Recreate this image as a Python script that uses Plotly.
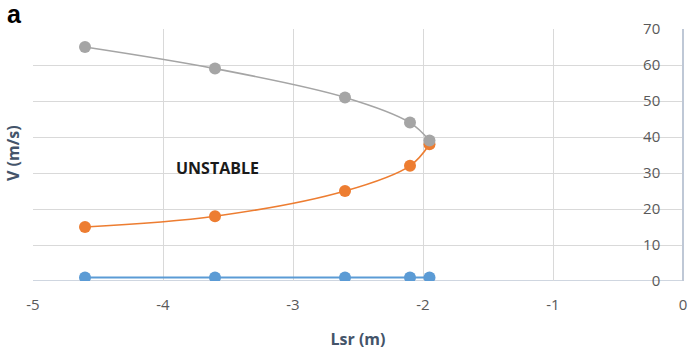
import plotly.graph_objects as go

lsr = [-4.6, -3.6, -2.6, -2.1, -1.95]
v_upper = [65, 59, 51, 44, 39]
v_lower = [15, 18, 25, 32, 38]
v_base = [1, 1, 1, 1, 1]

x_ticks = [-5, -4, -3, -2, -1, 0]
x_tick_labels = ["-5", "-4", "-3", "-2", "-1", "0"]
y_ticks = [0, 10, 20, 30, 40, 50, 60, 70]

fig = go.Figure()
fig.add_trace(go.Scatter(x=lsr, y=v_base, mode="lines+markers",
                         line=dict(color="#5B9BD5", width=2, shape="spline"),
                         marker=dict(color="#5B9BD5", size=12)))
fig.add_trace(go.Scatter(x=lsr, y=v_lower, mode="lines+markers",
                         line=dict(color="#ED7D31", width=1.6, shape="spline"),
                         marker=dict(color="#ED7D31", size=12)))
fig.add_trace(go.Scatter(x=lsr, y=v_upper, mode="lines+markers",
                         line=dict(color="#A5A5A5", width=1.6, shape="spline"),
                         marker=dict(color="#A5A5A5", size=12)))

fig.update_layout(
    width=689, height=351,
    margin=dict(l=33, r=6, t=29, b=70, autoexpand=False),
    plot_bgcolor="white", paper_bgcolor="white",
    showlegend=False,
    font=dict(family="Open Sans, sans-serif", color="#595959", size=15),
    xaxis=dict(range=[-5, 0], tickvals=x_ticks, ticktext=x_tick_labels,
               showgrid=True, gridcolor="#D9D9D9",
               gridwidth=1, zeroline=False, showline=False, ticks="",
               ticklabelstandoff=13,
               tickfont=dict(size=15, color="#595959"),
               title=dict(text="<b>Lsr (m)</b>", font=dict(size=16, color="#44546A"), standoff=20)),
    yaxis=dict(range=[0, 70], tickvals=y_ticks, side="left", anchor="free", position=1.0,
               showgrid=True, gridcolor="#D9D9D9", gridwidth=1, zeroline=False,
               showline=True, linecolor="#BFC8D6", linewidth=1.5,
               ticks="", ticklabelstandoff=19, tickfont=dict(size=15, color="#595959")),
    annotations=[
        dict(text="<b>V (m/s)</b>", x=13, y=155, xref="paper", yref="paper",
             showarrow=False, textangle=-90, font=dict(size=16, color="#44546A")),
        dict(text="<b>UNSTABLE</b>", x=-3.58, y=31.4, xref="x", yref="y",
             showarrow=False, font=dict(size=16, color="#1a1a1a")),
        dict(text="<b>a</b>", x=0.01, y=1.0, xref="paper", yref="paper",
             showarrow=False, font=dict(size=25, color="#000000", family="Liberation Sans, Arial, sans-serif")),
    ],
)
# bottom axis line
fig.add_shape(type="line", xref="paper", yref="y", x0=0, x1=1, y0=0, y1=0,
              line=dict(color="#BFC8D6", width=1.5), layer="below")

pw, ph = 689 - 33 - 6, 351 - 29 - 70
fig.layout.annotations[0].update(x=(13 - 33) / pw, y=(351 - 70 - 153) / ph, xanchor="center", yanchor="middle")
fig.layout.annotations[2].update(x=(14 - 33) / pw, y=(351 - 70 - 14) / ph, xanchor="center", yanchor="middle")

fig.write_html("out.html", config={"displayModeBar": False},
               post_script="document.body.style.margin='0';document.body.style.padding='0';")
